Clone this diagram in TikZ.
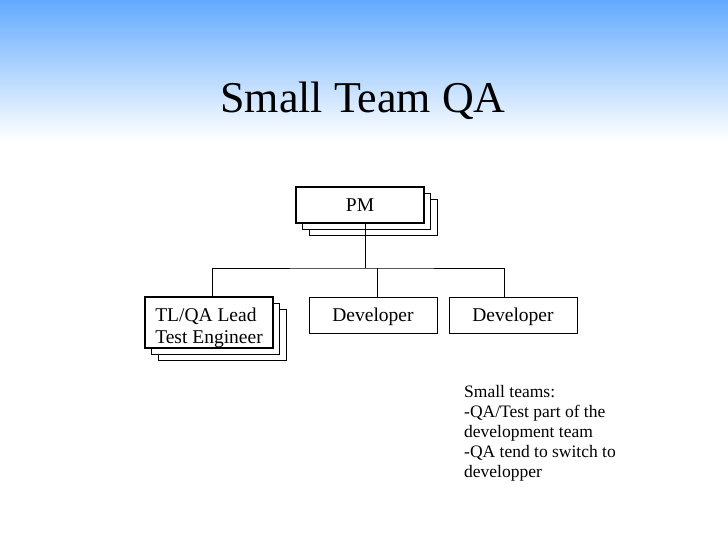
\documentclass[tikz,border=0pt]{standalone}
\usepackage{fontspec}
\setmainfont{Liberation Serif}
\usetikzlibrary{positioning,shadows,calc}

\definecolor{skyblue}{RGB}{98,170,255}

\begin{document}
\begin{tikzpicture}[
    x=1pt, y=-1pt,
    role/.style={draw, fill=white, line width=1pt, minimum width=128pt, minimum height=36pt,
      font=\fontsize{19.5}{22}\selectfont},
    onerow/.style={text depth=0pt},
    stack/.style={double copy shadow={shadow xshift=6.5pt, shadow yshift=-6pt,
      draw=black, fill=white, line width=0.8pt}},
    link/.style={line width=0.8pt}
  ]
    \useasboundingbox (0,0) rectangle (728,546);
    \shade[top color=skyblue, bottom color=white] (0,0) rectangle (728,140);

    \node[anchor=base, font=\fontsize{44}{50}\selectfont] (title) at (363,112) {Small Team QA};

    \node[role, onerow, stack, line width=1.8pt] (pm) at (360,205) {PM};

    \node[role, stack, line width=1.2pt, minimum height=51pt, inner ysep=0pt, align=left, inner xsep=7pt] (tl) at (209,322.5)
      {\rule{0pt}{24.8pt}TL/QA Lead\\Test Engineer};
    \node[role, onerow] (dev1) at (373,315) {Developer};
    \node[role, onerow] (dev2) at (513,315) {Developer};

    \coordinate (bus) at (365,268);
    \draw[link] (pm.south -| bus) -- (bus);
    \draw[link] ([xshift=3pt]tl.north) |- (bus) -| ([xshift=-9pt]dev2.north);
    \draw[link] ([xshift=4pt]dev1.north) -- ([xshift=4pt]dev1.north |- bus);

    \node[anchor=north west, inner sep=0pt, align=left, font=\fontsize{17.5}{20}\selectfont] (note) at (464,385)
      {Small teams:\\-QA/Test part of the\\development team\\-QA tend to switch to\\developper};
  \end{tikzpicture}
\end{document}
